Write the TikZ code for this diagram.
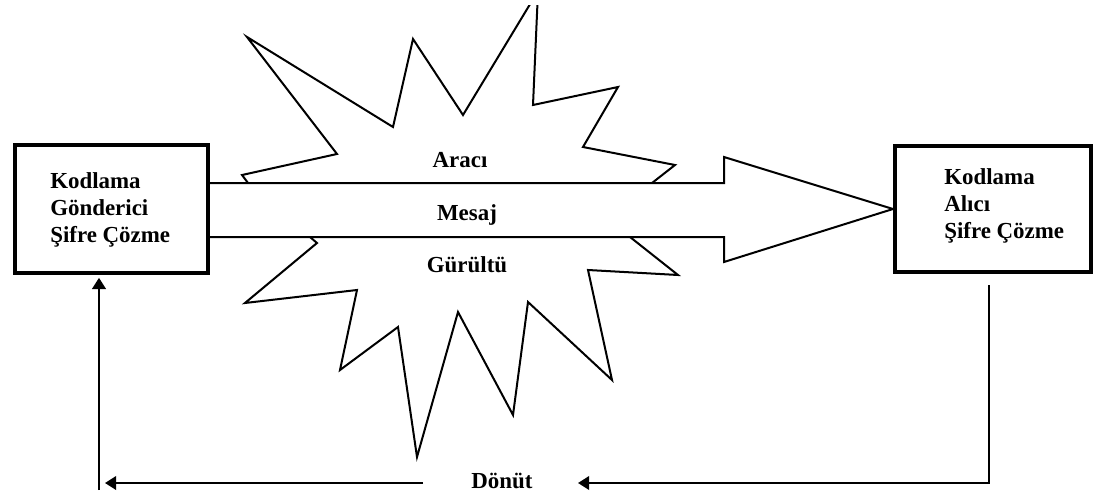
\documentclass[tikz,border=0pt]{standalone}
\usepackage{fontspec}
\setmainfont{Liberation Serif}
\usetikzlibrary{arrows.meta,backgrounds}
\tikzset{
  boxnode/.style={draw, line width=0.1cm, fill=white, inner sep=0pt},
  txt/.style={font=\fontsize{16.3}{19.2}\selectfont\bfseries, align=left, inner sep=0pt},
  outline/.style={draw, line width=0.05cm, fill=white, line join=miter},
  fb/.style={line width=0.055cm, -{Triangle[length=0.28cm,width=0.34cm]}}
}
\begin{document}
\begin{tikzpicture}[x=0.025cm,y=-0.025cm]
\useasboundingbox (0,0) rectangle (1102,492);
\node[boxnode, minimum width=4.825cm, minimum height=3.2cm] (lbox) at (111.5,209) {};
\node[boxnode, minimum width=4.9cm, minimum height=3.15cm] (rbox) at (993,209) {};
\node[txt, anchor=north west] (ltext) at (50,172) {Kodlama\\Gönderici\\Şifre Çözme};
\node[txt, anchor=north west] (rtext) at (944,168) {Kodlama\\Alıcı\\Şifre Çözme};

\begin{pgfonlayer}{background}
\begin{scope}
\clip (0,6) rectangle (1102,492);
\path[outline] (248,183) -- (242,175) -- (337,154) -- (247,37) -- (393,127) -- (413,39)
  -- (463,115) -- (538,-9) -- (533,105) -- (618,87) -- (583,147) -- (675,165) -- (652,183)
  -- (630,237) -- (678,275) -- (588,270) -- (612,380) -- (528,302) -- (513,415) -- (458,312)
  -- (417,457) -- (398,327) -- (340,370) -- (357,290) -- (245,303) -- (317,243) -- (310,237) -- cycle;
\end{scope}
\path[outline] (lbox.east |- 0,183) -- (724,183) -- (724,157) -- (rbox.west) -- (724,262)
  -- (724,237) -- (lbox.east |- 0,237);
\end{pgfonlayer}

\node[txt, anchor=base] (araci) at (460,167) {Aracı};
\node[txt, anchor=base] (mesaj) at (467,220) {Mesaj};
\node[txt, anchor=base] (gurultu) at (467,272) {Gürültü};
\node[txt, anchor=base] (donut) at (502,488) {Dönüt};

\coordinate (rdown) at (989,285);
\coordinate (rin) at (578,483);
\coordinate (lout) at (423,483);
\coordinate (lcorner) at (99,483);
\draw[fb] (rdown) |- (rin);
\draw[fb, shorten >=0.15cm] (lout) -- (lcorner);
\draw[fb, shorten >=0.07cm] (99,490) -- (lcorner |- lbox.south);
\end{tikzpicture}
\end{document}
